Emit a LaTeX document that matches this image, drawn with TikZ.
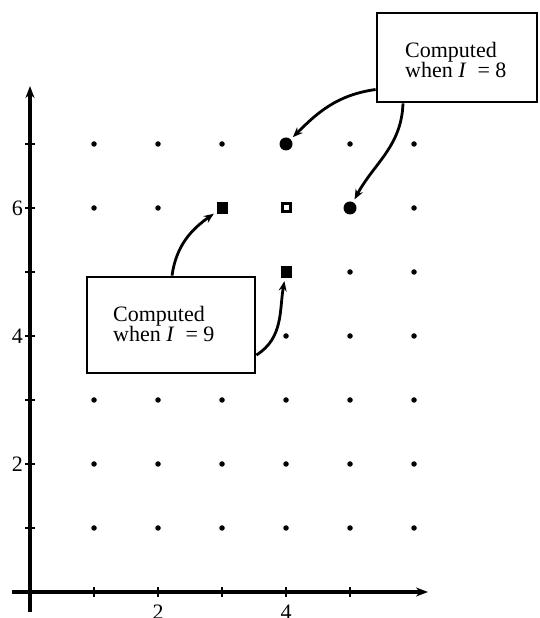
\documentclass[tikz,border=0pt]{standalone}
\usepackage{fontspec}
\setmainfont{Liberation Serif}
\usetikzlibrary{arrows.meta}
\begin{document}
\begin{tikzpicture}[x=1pt,y=1pt,
 axis/.style={line width=3.2pt,-{Stealth[length=12pt,width=9pt]}},
 tickmark/.style={line width=2.8pt},
 gdot/.style={circle,fill,inner sep=0pt,minimum size=5.5pt},
 bigdot/.style={circle,fill,inner sep=0pt,minimum size=13pt},
 fsq/.style={rectangle,fill,inner sep=0pt,minimum width=11pt,minimum height=12pt},
 osq/.style={rectangle,draw,line width=3pt,inner sep=0pt,minimum size=8pt},
 box/.style={draw,line width=2.8pt,fill=white,inner sep=0pt},
 txt/.style={font=\fontsize{22}{20}\selectfont,align=left,inner sep=0pt,anchor=north west},
 num/.style={font=\fontsize{22}{20}\selectfont,inner sep=0pt},
 conn/.style={line width=2.8pt,-{Stealth[length=10pt,width=8pt]},shorten >=3pt},
 ]
\useasboundingbox (0,0) rectangle (539,618);
% axes
\coordinate (ybot) at (30,6);
\coordinate (ytop) at (30,532);
\coordinate (xleft) at (12,26);
\coordinate (xright) at (428,26);
\draw[axis] (ybot) -- (ytop);
\draw[axis] (xleft) -- (xright);
\begin{scope}[shift={(30pt,26pt)},x=64pt,y=64pt]
  \foreach \i in {1,...,5}
    \draw[tickmark] ([yshift=-5pt]\i,0) -- ([yshift=5pt]\i,0);
  \foreach \j in {1,...,7}
    \draw[tickmark] ([xshift=-5pt]0,\j) -- ([xshift=5pt]0,\j);
  % grid dots
  \foreach \i/\j in {1/1,2/1,3/1,4/1,5/1,6/1,
                     1/2,2/2,3/2,4/2,5/2,6/2,
                     1/3,2/3,3/3,4/3,5/3,6/3,
                     4/4,5/4,6/4,
                     5/5,6/5,
                     1/6,2/6,6/6,
                     1/7,2/7,3/7,5/7,6/7}
    \node[gdot] (d\i\j) at (\i,\j) {};
  \node[bigdot] (c47) at (4,7) {};
  \node[fsq] (s36) at (3,6) {};
  \node[osq] (o46) at (4,6) {};
  \node[bigdot] (c56) at (5,6) {};
  \node[fsq] (s45) at (4,5) {};
  % axis labels
  \node[num,anchor=north] (lx2) at ([yshift=-13pt]2,0) {2};
  \node[num,anchor=north] (lx4) at ([yshift=-13pt]4,0) {4};
  \node[num,anchor=east] (ly2) at ([xshift=-7pt]0,2) {2};
  \node[num,anchor=east] (ly4) at ([xshift=-7pt]0,4) {4};
  \node[num,anchor=east] (ly6) at ([xshift=-7pt]0,6) {6};
\end{scope}
% boxes
\node[box,minimum width=168pt,minimum height=96pt] (b9) at (171,293) {};
\node[txt] (t9) at (113,312) {Computed\\when \textit{I}\ \ =\ 9};
\node[box,minimum width=160pt,minimum height=89pt] (b8) at (457,560.5) {};
\node[txt] (t8) at (405,576) {Computed\\when \textit{I}\ \ =\ 8};
% connectors
\draw[conn] ([yshift=-32pt]b8.west) to[out=188,in=45] (c47);
\draw[conn] ([xshift=-54pt]b8.south) to[out=-92,in=62] (c56);
\draw[conn] ([xshift=1pt]b9.north) to[out=82,in=215] (s36);
\draw[conn] ([yshift=-30pt]b9.east) to[out=32,in=-100] (s45);
\end{tikzpicture}
\end{document}
